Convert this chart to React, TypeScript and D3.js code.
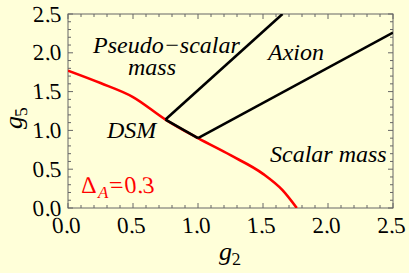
import * as d3 from 'd3'

// red boundary (Delta_A = 0.3)
const redG2 = [0, 0.25, 0.5, 0.75, 1.0, 1.25, 1.5, 1.65, 1.76]
const redG5 = [1.77, 1.61, 1.43, 1.14, 0.9, 0.68, 0.44, 0.23, 0]

// black phase boundaries
const pseudoG2 = [0.75, 1.65]
const pseudoG5 = [1.14, 2.5]
const axionG2 = [1.0, 2.5]
const axionG5 = [0.9, 2.26]
const dsmG2 = [0.75, 1.0]
const dsmG5 = [1.14, 0.9]

const majorTicks = [0, 0.5, 1.0, 1.5, 2.0, 2.5]
const tickLabels = ['0.0', '0.5', '1.0', '1.5', '2.0', '2.5']

const W = 409
const H = 273
const margin = { top: 14, right: 16, bottom: 65, left: 68 }
const BG = '#ffffd9'
const FRAME = '#666666'
// only the italic serif face showed up reliably, so upright text is the
// italic face with the slant taken back out
const FONT = 'Times New Roman'
const SLANT = 15

type TextProps = {
  x: number
  y: number
  size: number
  anchor?: 'start' | 'middle' | 'end'
  fill?: string
  children: any
}

function Upright({ x, y, size, anchor = 'start', fill = '#000', children }: TextProps) {
  return (
    <g transform={`translate(${x},${y}) skewX(${SLANT})`}>
      <text
        x={0}
        y={0}
        textAnchor={anchor}
        fill={fill}
        style={{ fontFamily: FONT, fontStyle: 'italic', fontSize: size }}
      >
        {children}
      </text>
    </g>
  )
}

function Italic({ x, y, size, anchor = 'start', fill = '#000', children }: TextProps) {
  return (
    <text
      x={x}
      y={y}
      textAnchor={anchor}
      fill={fill}
      style={{ fontFamily: FONT, fontStyle: 'italic', fontSize: size }}
    >
      {children}
    </text>
  )
}

export default function App() {
  const x = d3.scaleLinear().domain([0, 2.5]).range([margin.left, W - margin.right])
  const y = d3.scaleLinear().domain([0, 2.5]).range([H - margin.bottom, margin.top])

  const line = d3
    .line<[number, number]>()
    .x((d) => x(d[0]))
    .y((d) => y(d[1]))
    .curve(d3.curveMonotoneX)

  const straight = d3
    .line<[number, number]>()
    .x((d) => x(d[0]))
    .y((d) => y(d[1]))

  const zip = (a: number[], b: number[]) => a.map((v, i) => [v, b[i]] as [number, number])

  const minorTicks = d3.range(0, 2.51, 0.1).filter((v) => Math.abs(v * 2 - Math.round(v * 2)) > 1e-6)

  const x0 = x(0)
  const x1 = x(2.5)
  const y0 = y(0)
  const y1 = y(2.5)

  const tickMarks: any[] = []
  const addTicks = (vals: number[], len: number, key: string) => {
    vals.forEach((v, i) => {
      const px = x(v)
      const py = y(v)
      tickMarks.push(
        <line key={`${key}b${i}`} x1={px} x2={px} y1={y0} y2={y0 - len} />,
        <line key={`${key}t${i}`} x1={px} x2={px} y1={y1} y2={y1 + len} />,
        <line key={`${key}l${i}`} x1={x0} x2={x0 + len} y1={py} y2={py} />,
        <line key={`${key}r${i}`} x1={x1} x2={x1 - len} y1={py} y2={py} />
      )
    })
  }
  addTicks(majorTicks, 5, 'M')
  addTicks(minorTicks, 3, 'm')

  const yMid = (y0 + y1) / 2

  return (
    <svg
      width={W}
      height={H}
      style={{ position: 'absolute', left: 0, top: 0, display: 'block' }}
    >
      <rect x={0} y={0} width={W} height={H} fill={BG} />
      <defs>
        <clipPath id="plot">
          <rect x={x0} y={y1} width={x1 - x0} height={y0 - y1} />
        </clipPath>
      </defs>

      {/* frame and ticks */}
      <g stroke={FRAME} strokeWidth={1}>
        {tickMarks}
      </g>
      <rect x={x0} y={y1} width={x1 - x0} height={y0 - y1} fill="none" stroke={FRAME} strokeWidth={1} />

      {/* tick labels */}
      {majorTicks.map((v, i) => (
        <Upright key={`xl${i}`} x={x(v)} y={y0 + 25} size={23} anchor="middle">
          {tickLabels[i]}
        </Upright>
      ))}
      {majorTicks.map((v, i) => (
        <Upright key={`yl${i}`} x={x0 - 5} y={y(v) + 7.5} size={23} anchor="end">
          {tickLabels[i]}
        </Upright>
      ))}

      {/* curves */}
      <g clipPath="url(#plot)" fill="none" strokeWidth={2.6} strokeLinejoin="round">
        <path d={line(zip(redG2, redG5)) || ''} stroke="#ff0000" />
        <path d={straight(zip(dsmG2, dsmG5)) || ''} stroke="#000" />
        <path d={straight(zip(pseudoG2, pseudoG5)) || ''} stroke="#000" />
        <path d={straight(zip(axionG2, axionG5)) || ''} stroke="#000" />
      </g>

      {/* region labels */}
      <Italic x={93} y={53} size={24}>Pseudo−scalar</Italic>
      <Italic x={128} y={75} size={24}>mass</Italic>
      <Italic x={268} y={60} size={24}>Axion</Italic>
      <Italic x={107} y={138} size={24}>DSM</Italic>
      <Italic x={270} y={162} size={24}>Scalar mass</Italic>

      {/* Delta_A = 0.3 */}
      <Upright x={83} y={193} size={24} fill="#ff0000">Δ</Upright>
      <Italic x={98} y={198} size={17} fill="#ff0000">A</Italic>
      <Upright x={110} y={193} size={24} fill="#ff0000">=0.3</Upright>

      {/* axis titles */}
      <Italic x={219} y={260} size={26}>g</Italic>
      <Upright x={233} y={265} size={18}>2</Upright>
      <g transform={`translate(22,${yMid + 4}) rotate(-90)`}>
        <Italic x={-14} y={0} size={26}>g</Italic>
        <Upright x={0} y={5} size={18}>5</Upright>
      </g>
    </svg>
  )
}
